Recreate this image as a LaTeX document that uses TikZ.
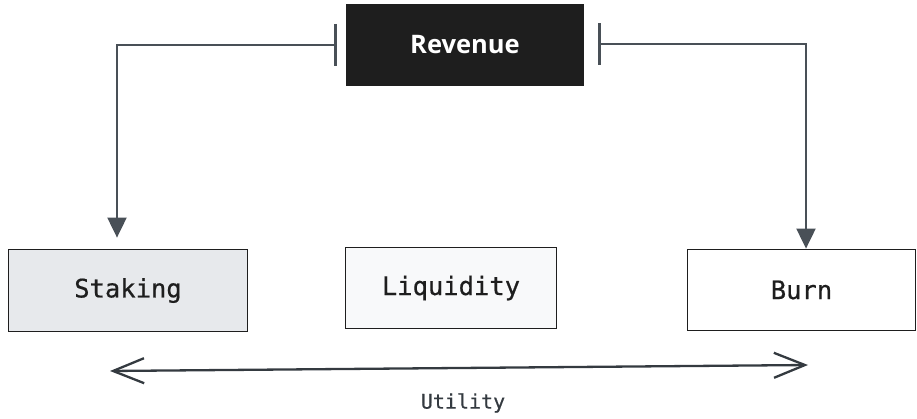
\documentclass[tikz,border=0pt]{standalone}
\usepackage{fontspec}
\setmainfont{Open Sans}
\setmonofont{DejaVu Sans Mono}[FakeBold=0.6]
\usetikzlibrary{arrows.meta}

\definecolor{inkdark}{HTML}{1E1E1E}
\definecolor{linkgray}{HTML}{495057}
\definecolor{stakefill}{HTML}{E7E9EC}
\definecolor{liqfill}{HTML}{F8F9FA}
\definecolor{axisgray}{HTML}{343A40}

\tikzset{
  box/.style={draw=inkdark, line width=1.8pt, rectangle, inner sep=0pt,
              font=\ttfamily\fontsize{25.5}{30}\selectfont, text=inkdark},
  headbox/.style={draw=inkdark, fill=inkdark, line width=1.5pt, rectangle, inner sep=0pt,
                  font=\bfseries\fontsize{25.5}{30}\selectfont, text=white},
  flow/.style={draw=linkgray, line width=2pt,
               {Bar[width=42pt,line width=2.6pt]}-{Triangle[length=20pt,width=19pt]}},
  axis/.style={draw=axisgray, line width=2.3pt, line cap=round,
               {Straight Barb[length=31pt,width=25pt,line width=2.3pt]}-{Straight Barb[length=31pt,width=25pt,line width=2.3pt]}},
}

\begin{document}
\begin{tikzpicture}[x=1pt,y=-1pt]
  \useasboundingbox (0,0) rectangle (917,419);

  % source of both flows
  \node[headbox, minimum width=237pt, minimum height=81pt] (rev) at (465,45) {Revenue};

  % destinations
  \node[box, fill=stakefill, minimum width=239pt, minimum height=82pt] (stake) at (128,290.5) {Staking};
  \node[box, fill=liqfill, minimum width=211pt, minimum height=81pt] (liq) at (451,288) {Liquidity};
  \node[box, fill=white, minimum width=228pt, minimum height=81pt] (burn) at (801.5,290) {Burn};

  % revenue split
  \draw[flow] ([xshift=-9pt]rev.west) -| ([xshift=-11pt,yshift=11pt]stake.north);
  \draw[flow] ([xshift=14pt,yshift=1pt]rev.east) -| ([xshift=4.5pt]burn.north);

  % utility axis
  \coordinate (uL) at (110,371);
  \coordinate (uR) at (808,365);
  \draw[axis] (uL) -- (uR);
  \node[font=\ttfamily\fontsize{20}{24}\selectfont, text=axisgray] (util) at (463,403) {Utility};
\end{tikzpicture}
\end{document}
